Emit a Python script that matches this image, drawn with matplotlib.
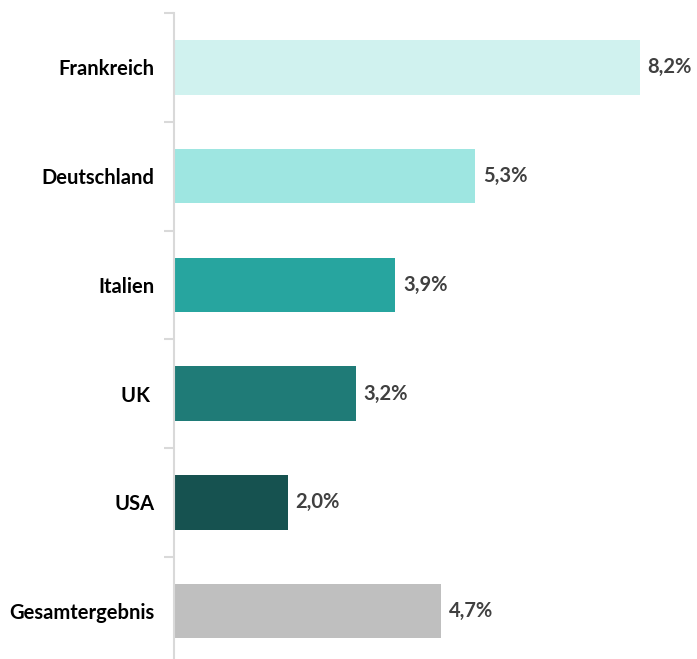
import matplotlib.pyplot as plt
import numpy as np

categories = ['Frankreich', 'Deutschland', 'Italien', 'UK ', 'USA', 'Gesamtergebnis']
values = [8.2, 5.3, 3.9, 3.2, 2.0, 4.7]
colors = ['#d0f2ef', '#9ee6e1', '#27a59f', '#1f7b77', '#165250', '#bfbfbf']

plt.rcParams['font.family'] = ['Lato', 'DejaVu Sans']

fig = plt.figure(figsize=(6.97, 6.59), dpi=100)
ax = fig.add_axes([174 / 697, 0, (685 - 174) / 697, 646 / 659])

y = np.arange(len(categories))
ax.barh(y, values, height=0.5, color=colors)

for yi, v in zip(y, values):
    ax.text(v + 0.14, yi, f'{v:.1f}%'.replace('.', ','), va='center', ha='left',
            fontsize=14.5, fontweight='bold', color='#404040')

ax.set_yticks(y)
ax.set_yticklabels(categories, fontsize=14.5, fontweight='bold')
ax.tick_params(axis='y', which='major', length=0, pad=14)
ax.set_yticks(np.arange(-0.5, 6, 1), minor=True)
ax.tick_params(axis='y', which='minor', length=7, color='#d9d9d9', width=1.5)
ax.set_xticks([])

# limits last, set_yticks would widen them otherwise
ax.set_xlim(0, 9.0)
ax.set_ylim(5.44, -0.5)

for s in ['top', 'right', 'bottom']:
    ax.spines[s].set_visible(False)
ax.spines['left'].set_color('#d9d9d9')
ax.spines['left'].set_linewidth(1.5)

fig.savefig('out.png', dpi=100)
